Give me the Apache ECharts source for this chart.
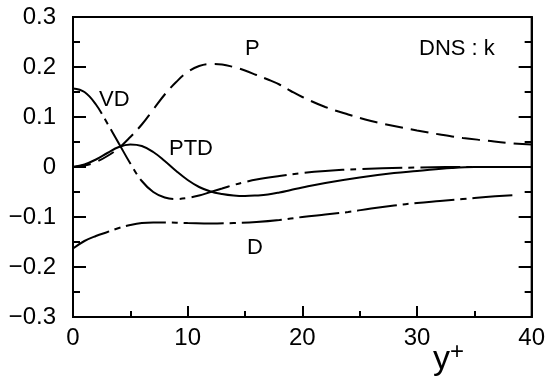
<!DOCTYPE html>
<html>
<head>
<meta charset="utf-8">
<script src="https://cdn.jsdelivr.net/npm/echarts@6/dist/echarts.min.js"></script>
<style>
  html, body { margin: 0; padding: 0; background: #fff; }
  #chart { width: 548px; height: 382px; }
</style>
</head>
<body>
<div id="chart"></div>
<script>
// ---- data (y+ , value) ----
var pX  = [0, 1, 2, 3, 4, 5, 6, 7, 8, 9, 10, 11, 12, 13, 14, 15, 16, 17, 18, 19, 20, 22, 24, 26, 28, 30, 32, 34, 36, 38, 40];
var pY  = [0, 0.003, 0.01, 0.022, 0.038, 0.06, 0.085, 0.115, 0.145, 0.17, 0.19, 0.202, 0.206, 0.205, 0.2, 0.193, 0.184, 0.175, 0.165, 0.152, 0.14, 0.12, 0.105, 0.092, 0.082, 0.073, 0.065, 0.058, 0.053, 0.048, 0.045];

var vdX = [0, 1, 2, 3, 4, 5, 6, 7, 8, 9, 10, 11, 12, 13, 14, 15, 16, 18, 20, 22, 25, 30, 35, 40];
var vdY = [0.157, 0.15, 0.125, 0.087, 0.047, 0.007, -0.028, -0.05, -0.061, -0.064, -0.062, -0.057, -0.05, -0.043, -0.036, -0.03, -0.025, -0.018, -0.012, -0.008, -0.004, -0.001, 0, 0];

var ptdX = [0, 1, 2, 3, 4, 5, 6, 7, 8, 9, 10, 11, 12, 13, 14, 15, 16, 17, 18, 19, 20, 22, 25, 28, 30, 33, 35, 40];
var ptdY = [0, 0.005, 0.015, 0.028, 0.04, 0.045, 0.042, 0.03, 0.012, -0.008, -0.026, -0.04, -0.049, -0.054, -0.057, -0.058, -0.057, -0.055, -0.051, -0.046, -0.041, -0.032, -0.021, -0.012, -0.008, -0.002, 0, 0];

var dX  = [0, 1, 2, 3, 4, 5, 6, 7, 8, 10, 12, 14, 16, 18, 20, 22, 24, 26, 28, 30, 32, 34, 36, 38.5];
var dY  = [-0.163, -0.148, -0.138, -0.13, -0.122, -0.116, -0.112, -0.111, -0.111, -0.112, -0.113, -0.112, -0.11, -0.106, -0.1, -0.095, -0.09, -0.083, -0.077, -0.072, -0.068, -0.064, -0.06, -0.056];

var yTicks = ['0.3', '0.2', '0.1', '0', '\u22120.1', '\u22120.2', '\u22120.3'];

function pairs(xs, ys) {
    return xs.map(function (x, i) { return [x, ys[i]]; });
}

var chart = echarts.init(document.getElementById('chart'));
var font = 'Liberation Sans';

function yLabel(v) {
    var idx = Math.round((0.3 - v) * 10);
    return yTicks[idx];
}

var option = {
    animation: false,
    backgroundColor: '#fff',
    grid: {
        left: 73, right: 11, top: 17, bottom: 65,
        show: true, borderColor: '#000', borderWidth: 2
    },
    xAxis: {
        type: 'value', min: 0, max: 40, interval: 10,
        axisLine: { show: true, onZero: false, lineStyle: { color: '#000', width: 2 } },
        axisTick: { inside: true, length: 11, lineStyle: { color: '#000', width: 2 } },
        minorTick: { show: true, splitNumber: 2, length: 6, lineStyle: { color: '#000', width: 2 } },
        splitLine: { show: false },
        axisLabel: { color: '#000', fontFamily: font, fontSize: 24, margin: 9 }
    },
    yAxis: [{
        type: 'value', min: -0.3, max: 0.3, interval: 0.1,
        axisLine: { show: true, onZero: false, lineStyle: { color: '#000', width: 2 } },
        axisTick: { inside: true, length: 13, lineStyle: { color: '#000', width: 2 } },
        minorTick: { show: true, splitNumber: 2, length: 7, lineStyle: { color: '#000', width: 2 } },
        splitLine: { show: false },
        axisLabel: { color: '#000', fontFamily: font, fontSize: 24, margin: 17, formatter: yLabel }
    }, {
        type: 'value', min: -0.3, max: 0.3, interval: 0.1, position: 'right',
        axisLine: { show: true, onZero: false, lineStyle: { color: '#000', width: 2 } },
        axisTick: { inside: true, length: 13, lineStyle: { color: '#000', width: 2 } },
        minorTick: { show: true, splitNumber: 2, length: 7, lineStyle: { color: '#000', width: 2 } },
        splitLine: { show: false },
        axisLabel: { show: false }
    }],
    series: [{
        name: 'P', type: 'line', smooth: 0.4, showSymbol: false,
        data: pairs(pX, pY),
        lineStyle: { color: '#000', width: 2, type: [18, 8] }
    }, {
        name: 'VD', type: 'line', smooth: 0.4, showSymbol: false,
        data: pairs(vdX, vdY),
        lineStyle: { color: '#000', width: 2, type: [40, 6, 6, 6] }
    }, {
        name: 'PTD', type: 'line', smooth: 0.4, showSymbol: false,
        data: pairs(ptdX, ptdY),
        lineStyle: { color: '#000', width: 2 }
    }, {
        name: 'D', type: 'line', smooth: 0.4, showSymbol: false,
        data: pairs(dX, dY),
        lineStyle: { color: '#000', width: 2, type: [40, 6, 6, 6] }
    }],
    graphic: [
        { type: 'text', left: 245, top: 38, style: { text: 'P', font: '22px ' + font, fill: '#000' } },
        { type: 'text', left: 99, top: 89, style: { text: 'VD', font: '22px ' + font, fill: '#000' } },
        { type: 'text', left: 169, top: 138, style: { text: 'PTD', font: '22px ' + font, fill: '#000' } },
        { type: 'text', left: 247, top: 237, style: { text: 'D', font: '22px ' + font, fill: '#000' } },
        { type: 'text', left: 419, top: 38, style: { text: 'DNS : k', font: '22px ' + font, fill: '#000' } },
        { type: 'text', left: 433, top: 340, style: {
            text: '{y|y}{s|+}',
            rich: {
                y: { font: '34px ' + font, fill: '#000' },
                s: { font: '24px ' + font, fill: '#000', verticalAlign: 'top', padding: [0, 0, 16, 0] }
            }
        } }
    ]
};

chart.setOption(option);
</script>
</body>
</html>
